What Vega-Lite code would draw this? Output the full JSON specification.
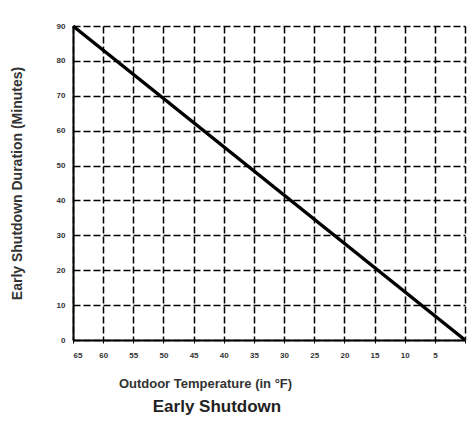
{
  "$schema": "https://vega.github.io/schema/vega-lite/v6.json",
  "autosize": {"type": "none"},
  "width": 392,
  "height": 314,
  "padding": {"left": 73, "top": 26, "right": 2, "bottom": 93},
  "background": "white",
  "title": {
    "text": "Early Shutdown",
    "orient": "bottom",
    "anchor": "middle",
    "offset": 9,
    "font": "Liberation Sans",
    "fontSize": 17,
    "fontWeight": "bold",
    "color": "#222",
    "dx": -52
  },
  "data": {"values": [
    {"temp": 65, "minutes": 90},
    {"temp": 0, "minutes": 0}
  ]},
  "mark": {"type": "line", "color": "#000", "strokeWidth": 3.5, "clip": false},
  "encoding": {
    "x": {
      "field": "temp",
      "type": "quantitative",
      "scale": {"domain": [65, 0], "nice": false, "zero": false},
      "axis": {
        "title": "Outdoor Temperature (in °F)",
        "titleX": 132,
        "titleAlign": "center",
        "values": [65, 60, 55, 50, 45, 40, 35, 30, 25, 20, 15, 10, 5, 0],
        "labelExpr": "datum.value == 0 ? '' : datum.label",
        "grid": true,
        "gridColor": "#000",
        "gridDash": [7, 3],
        "gridWidth": 1.5,
        "gridOpacity": 1,
        "domainColor": "#000",
        "domainWidth": 2,
        "tickColor": "#000",
        "tickSize": 3,
        "labelFont": "Liberation Sans",
        "labelFontSize": 8,
        "labelFontWeight": "bold",
        "labelColor": "#333",
        "labelPadding": 8,
        "titleFont": "Liberation Sans",
        "titleFontSize": 13,
        "titleFontWeight": "bold",
        "titleColor": "#333",
        "titlePadding": 18
      }
    },
    "y": {
      "field": "minutes",
      "type": "quantitative",
      "scale": {"domain": [0, 90], "nice": false},
      "axis": {
        "title": "Early Shutdown Duration (Minutes)",
        "values": [0, 10, 20, 30, 40, 50, 60, 70, 80, 90],
        "grid": true,
        "gridColor": "#000",
        "gridDash": [7, 3],
        "gridWidth": 1.5,
        "gridOpacity": 1,
        "domainColor": "#000",
        "domainWidth": 2,
        "ticks": false,
        "labelFont": "Liberation Sans",
        "labelFontSize": 8,
        "labelFontWeight": "bold",
        "labelColor": "#333",
        "labelPadding": 8,
        "titleFont": "Liberation Sans",
        "titleFontSize": 14,
        "titleFontWeight": "bold",
        "titleColor": "#333",
        "titlePadding": 32
      }
    }
  },
  "config": {"view": {"stroke": null}}
}
